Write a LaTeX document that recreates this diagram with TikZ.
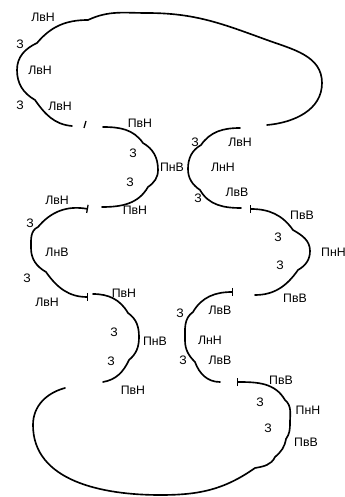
\documentclass[tikz,border=0pt]{standalone}
\usepackage{fontspec}
\setmainfont{Liberation Sans}
\usetikzlibrary{arrows.meta}
\tikzset{
  crv/.style={line width=1.4pt,line cap=round},
  lb/.style={font=\fontsize{10.5}{12}\selectfont,inner sep=0pt},
}

\begin{document}
\begin{tikzpicture}[x=0.03cm,y=0.03cm,
  bb/.style={{Bar[width=7pt,line width=1.1pt]}-},
  bbb/.style={{Bar[width=7pt,line width=1.1pt]}-{Bar[width=7pt,line width=1.1pt]}}]
  \useasboundingbox (0,0) rectangle (345,497);
  \clip (0,0) rectangle (345,497);
  % top loop
  \draw[crv] (72,371) to[out=175,in=-55] (35,397) to[out=150,in=-90] (17,427)
    to[out=90,in=205] (37,454) to[out=50,in=180] (88,477) to[out=25,in=180] (147,484)
    to[out=0,in=160] (267,457) to[out=-20,in=90] (322,414) to[out=-90,in=5] (267,372);
  \draw[line width=1.1pt] (84,369) -- (86,376);
  \node[lb] (a1) at (43,480) {ЛвН};
  \node[lb] (a2) at (20,453) {З};
  \node[lb] (a3) at (40,427) {ЛвН};
  \node[lb] (a4) at (20,392) {З};
  \node[lb] (a5) at (60,391) {ЛвН};
  % upper pair
  \draw[crv] (103,370) to[out=0,in=125] (143,354) to[out=-30,in=90] (158,327)
    to[out=-90,in=35] (148,310) to[out=-120,in=0] (102,290);
  \node[lb] (b1) at (140,374) {ПвН};
  \node[lb] (b2) at (133,344) {З};
  \node[lb] (b3) at (172,330) {ПнВ};
  \node[lb] (b4) at (130,315) {З};
  \node[lb] (b5) at (135,287) {ПвН};
  \draw[crv] (240,369) to[out=180,in=55] (201,352) to[out=210,in=90] (188,328)
    to[out=-90,in=145] (200,307) to[out=-60,in=180] (241,289);
  \node[lb] (c1) at (195,355) {З};
  \node[lb] (c2) at (240,355) {ЛвН};
  \node[lb] (c3) at (223,330) {ЛнН};
  \node[lb] (c4) at (237,305) {ЛвВ};
  \node[lb] (c5) at (198,299) {З};
  % middle pair
  \draw[crv,bbb] (88,288) to[out=170,in=50] (38,270) to[out=205,in=90] (31,249)
    to[out=-90,in=150] (46,225) to[out=-55,in=180] (88,200);
  \node[lb] (f1) at (57,297) {ЛвН};
  \node[lb] (f2) at (30,274) {З};
  \node[lb] (f3) at (57,245) {ЛнВ};
  \node[lb] (f4) at (27,219) {З};
  \node[lb] (f5) at (47,195) {ЛвН};
  \draw[crv,bb] (250,288) to[out=0,in=125] (293,267) to[out=-30,in=90] (310,246)
    to[out=-90,in=30] (298,227) to[out=-125,in=0] (255,202);
  \node[lb] (d1) at (302,282) {ПвВ};
  \node[lb] (d2) at (278,260) {З};
  \node[lb,anchor=west] (d3) at (321,245) {ПнН};
  \node[lb] (d4) at (280,232) {З};
  \node[lb] (d5) at (295,199) {ПвВ};
  % lower pair
  \draw[crv] (93,203) to[out=0,in=120] (128,184) to[out=-35,in=90] (139,160)
    to[out=-90,in=40] (129,137) to[out=-115,in=10] (103,115);
  \node[lb] (g1) at (124,204) {ПвН};
  \node[lb] (g2) at (114,165) {З};
  \node[lb] (g3) at (155,156) {ПнВ};
  \node[lb] (g4) at (111,136) {З};
  \node[lb] (g5) at (133,107) {ПвН};
  \draw[crv,bb] (233,205) to[out=180,in=60] (193,185) to[out=215,in=90] (185,157)
    to[out=-90,in=135] (195,135) to[out=-70,in=180] (220,115);
  \node[lb] (e1) at (180,184) {З};
  \node[lb] (e2) at (220,187) {ЛвВ};
  \node[lb] (e3) at (210,157) {ЛнН};
  \node[lb] (e4) at (183,137) {З};
  \node[lb] (e5) at (220,137) {ЛвВ};
  % bottom loop
  \draw[crv,bb] (237,115) to[out=0,in=120] (285,97) to[out=-40,in=90] (290,74)
    to[out=-90,in=55] (286,58) to[out=-100,in=40] (275,40) to[out=-115,in=10] (255,29)
    to[out=-145,in=0] (160,2) to[out=180,in=-90] (33,72) to[out=90,in=195] (65,109);
  \node[lb] (h1) at (281,117) {ПвВ};
  \node[lb] (h2) at (260,95) {З};
  \node[lb] (h3) at (308,87) {ПнН};
  \node[lb] (h4) at (268,69) {З};
  \node[lb] (h5) at (306,55) {ПвВ};
\end{tikzpicture}
\end{document}
